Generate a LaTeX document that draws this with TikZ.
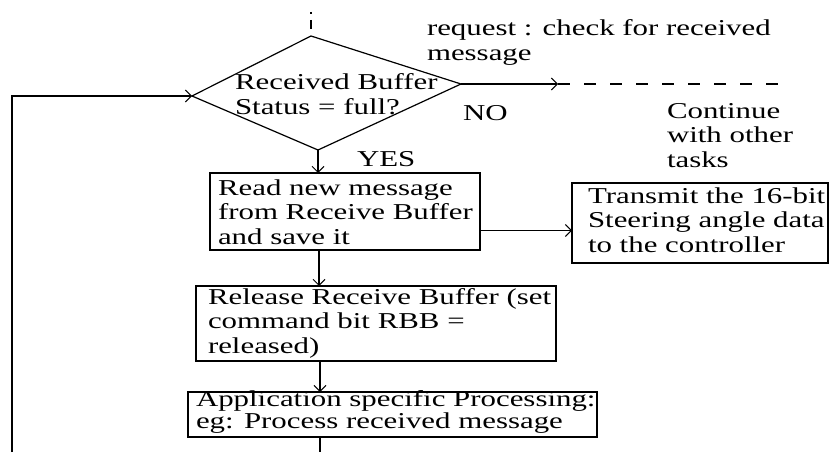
\documentclass[tikz,border=0pt]{standalone}
\usepackage{fontspec}
\setmainfont[FakeStretch=1.36]{Liberation Serif}
\usetikzlibrary{arrows.meta}
\begin{document}
\begin{tikzpicture}[x=1pt,y=-1pt,
  every node/.style={inner sep=0pt, outer sep=0pt},
  txt/.style={anchor=base west, align=left, font=\fontsize{22.7}{24.5}\selectfont},
  box/.style={draw, line width=1.4pt, anchor=north west, inner sep=0pt},
  ln/.style={line width=1.2pt},
  arr/.style={ln, -{Straight Barb[length=6pt,width=12pt,line width=1pt]}},
  dsh/.style={ln, dash pattern=on 12pt off 14pt}]
\useasboundingbox (0,0) rectangle (829,452);
% decision diamond
\coordinate (dT) at (311,36);
\coordinate (dR) at (461,84);
\coordinate (dB) at (318,150);
\coordinate (dL) at (192,96);
\draw[ln] (dT) -- (dR) -- (dB) -- (dL) -- cycle;
% multi-line texts are anchored at the baseline of their last line
\node[txt] (dtext) at (235,114) {Received Buffer\\Status = full?};
% incoming dashed line at top
\coordinate (inA) at (311,12);
\coordinate (inB) at (311,14);
\coordinate (inC) at (311,20);
\coordinate (inD) at (311,29);
\draw[ln] (inA) -- (inB);
\draw[ln] (inC) -- (inD);
% boxes
\node[box, minimum width=270pt, minimum height=77pt] (rd) at (210,173) {};
\node[box, minimum width=256pt, minimum height=80pt] (tx) at (572,183) {};
\node[box, minimum width=360pt, minimum height=75pt] (rel) at (196,286) {};
\node[box, minimum width=409pt, minimum height=45pt] (app) at (188,392) {};
% texts
\node[txt] (rdt) at (218,244) {Read new message\\from Receive Buffer\\and save it};
\node[txt] (txt1) at (588,252) {Transmit the 16-bit\\Steering angle data\\to the controller};
\node[txt] (relt) at (208,353) {Release Receive Buffer (set\\command bit RBB =\\released)};
\node[txt, font=\fontsize{22.7}{20}\selectfont] (appt) at (196,428) {Application specific Processing:\\eg: Process received message};
\node[txt] (req) at (427,60) {request : check for received\\message};
\node[txt] (no) at (463,120) {NO};
\node[txt] (cont) at (667,167) {Continue\\with other\\tasks};
\node[txt] (yes) at (357,166) {YES};
% spine
\coordinate (sp) at (319,0);
\coordinate (noEnd) at (558,84);
\coordinate (dEnd) at (787,84);
\coordinate (loopB) at (12,452);
\coordinate (loopT) at (12,96);
\coordinate (botEnd) at (320,452);
% connectors
\draw[arr] (dB) -- (dB |- rd.north);
\draw[arr] (dR) -- (noEnd);
\draw[dsh] (noEnd) -- (dEnd);
\draw[arr] ([yshift=-19pt]rd.east) -- ([yshift=-19pt]rd.east -| tx.west);
\draw[arr] (sp |- rd.south) -- (sp |- rel.north);
\draw[arr] (botEnd |- rel.south) -- (botEnd |- app.north);
\draw[ln] (botEnd |- app.south) -- (botEnd);
\draw[arr] (loopB) -- (loopT) -- (dL);
\end{tikzpicture}
\end{document}
